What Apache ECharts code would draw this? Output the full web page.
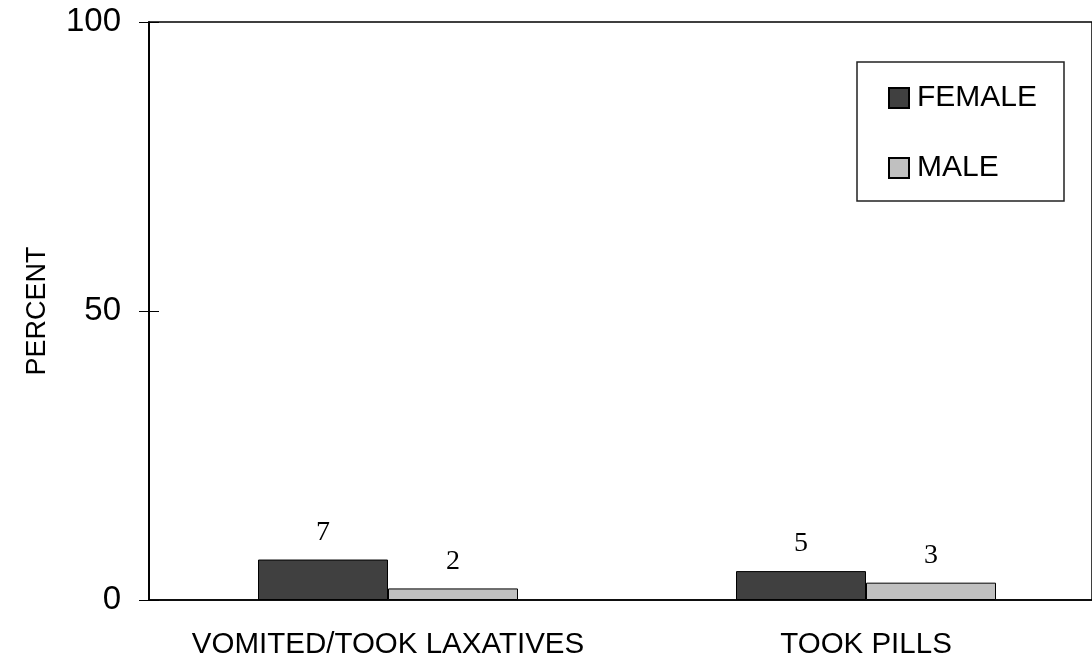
<!DOCTYPE html>
<html><head><meta charset="utf-8">
<script src="https://cdn.jsdelivr.net/npm/echarts@6/dist/echarts.min.js"></script>
<style>html,body{margin:0;padding:0;background:#fff}#c{width:1092px;height:660px}</style>
</head><body><div id="c"></div>
<script>
const categories = ['VOMITED/TOOK LAXATIVES', 'TOOK PILLS'];
const female = [7, 5];
const male = [2, 3];
const yTicks = [0, 50, 100];

const chart = echarts.init(document.getElementById('c'));
const font = '"Liberation Sans", Arial, sans-serif';
const serif = '"Liberation Serif", "Times New Roman", serif';
// plot's right edge is cut off in the original: each category band is ~478px wide
const gridLeft = 149, bandPx = 478;
const xMax = (1092 - gridLeft) / bandPx - 0.5;
const catIdx = categories.map((c, i) => i);
chart.setOption({
  animation: false,
  backgroundColor: '#fff',
  grid: {left: gridLeft, top: 22, right: 0, bottom: 59.5, show: true, borderColor: '#000', borderWidth: 1.5, containLabel: false},
  graphic: [{type: 'rect', shape: {x: 857, y: 62, width: 207, height: 139}, style: {fill: '#fff', stroke: '#222', lineWidth: 1.5}, z: 5}],
  legend: {
    orient: 'vertical', left: 888, top: 83, padding: 0, itemWidth: 20, itemHeight: 20, itemGap: 40, z: 10,
    icon: 'rect',
    textStyle: {fontFamily: font, fontSize: 30, color: '#000', padding: [0, 0, 0, 3]},
    data: ['FEMALE', 'MALE']
  },
  xAxis: {
    type: 'value', min: -0.5, max: xMax,
    splitLine: {show: false},
    axisLine: {onZero: false, lineStyle: {color: '#000', width: 1.5}},
    axisTick: {show: false},
    axisLabel: {customValues: catIdx, formatter: v => categories[Math.round(v)] || '',
      fontFamily: font, fontSize: 29.5, color: '#000', margin: 30, hideOverlap: false}
  },
  yAxis: [{
    type: 'value', min: yTicks[0], max: yTicks[yTicks.length - 1], interval: 50,
    splitLine: {show: false},
    axisLine: {show: true, onZero: false, lineStyle: {color: '#000', width: 1.5}},
    axisTick: {show: true, length: 10, lineStyle: {color: '#000'}},
    axisLabel: {fontFamily: font, fontSize: 33, color: '#000', margin: 28},
    name: 'PERCENT', nameLocation: 'middle', nameGap: 98,
    nameTextStyle: {fontFamily: font, fontSize: 27, color: '#000'}
  }, {
    type: 'value', min: yTicks[0], max: yTicks[yTicks.length - 1], interval: 50, position: 'left',
    splitLine: {show: false}, axisLine: {show: true, onZero: false, lineStyle: {color: '#000', width: 1.5}},
    axisTick: {show: true, inside: true, length: 10, lineStyle: {color: '#000'}},
    axisLabel: {show: false}
  }],
  series: [{
    name: 'FEMALE', type: 'bar', data: female.map((v, i) => [catIdx[i], v]), barWidth: 130, barGap: '0%',
    itemStyle: {color: '#404040', borderColor: '#000', borderWidth: 1},
    label: {show: true, position: 'top', distance: 13, fontFamily: serif, fontSize: 28, color: '#000',
      formatter: p => p.value[1]}
  }, {
    name: 'MALE', type: 'bar', data: male.map((v, i) => [catIdx[i], v]), barWidth: 130, barGap: '0%',
    itemStyle: {color: '#c0c0c0', borderColor: '#000', borderWidth: 1},
    label: {show: true, position: 'top', distance: 13, fontFamily: serif, fontSize: 28, color: '#000',
      formatter: p => p.value[1]}
  }]
});
</script></body></html>
